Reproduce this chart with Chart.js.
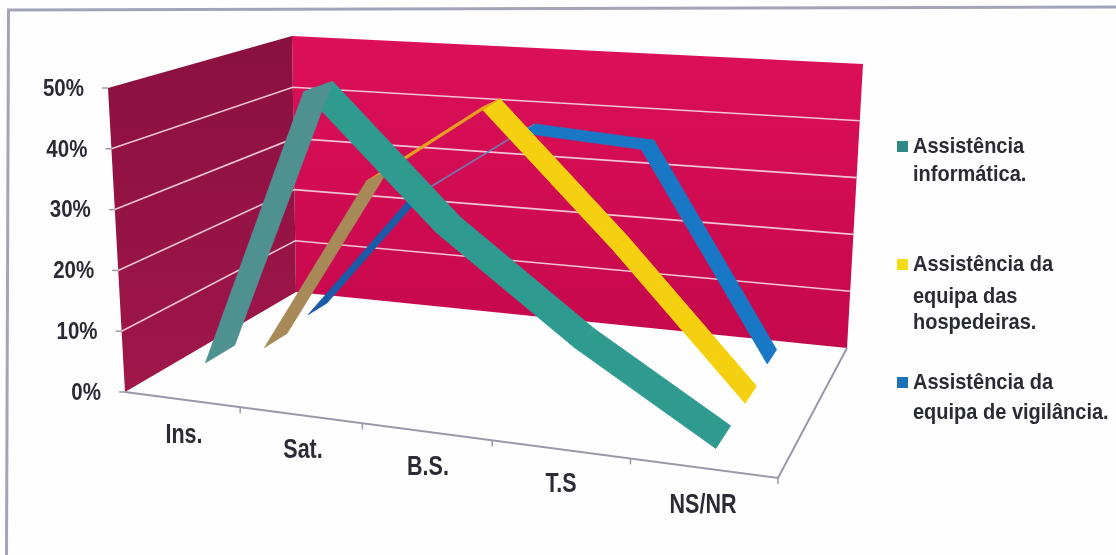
<!DOCTYPE html>
<html>
<head>
<meta charset="utf-8">
<style>
  html, body { margin: 0; padding: 0; background: #fefefe; }
  #chart { display: block; }
</style>
<script src="https://cdn.jsdelivr.net/npm/chart.js@4/dist/chart.umd.js"></script>
</head>
<body>
<canvas id="chart" width="1116" height="555"></canvas>
<script>
const categories = ["Ins.", "Sat.", "B.S.", "T.S", "NS/NR"];
const tickLabels = [0, 10, 20, 30, 40, 50];

const informatica = [3.5, 50, 29, 13, 0];
const hospedeiras = [0, 31, 45, 23, 0];
const vigilancia = [1, 24, 37.5, 36, 1];

// floor and top of the 3d box: front left, front right, back right, back left
const floorQuad = [[125, 392], [778, 478], [847, 348], [296, 292]];
const topQuad = [[108, 88], [795, 140], [863, 64], [292, 36]];
const maxValue = 50;

const homography = (q) => {
  const [[x0, y0], [x1, y1], [x2, y2], [x3, y3]] = q;
  const sx = x0 - x1 + x2 - x3, sy = y0 - y1 + y2 - y3;
  const dx1 = x1 - x2, dx2 = x3 - x2, dy1 = y1 - y2, dy2 = y3 - y2;
  const den = dx1 * dy2 - dx2 * dy1;
  const g = (sx * dy2 - dx2 * sy) / den, h = (dx1 * sy - sx * dy1) / den;
  const a = x1 - x0 + g * x1, b = x3 - x0 + h * x3, d = y1 - y0 + g * y1, e = y3 - y0 + h * y3;
  return (u, v) => {
    const w = g * u + h * v + 1;
    return [(a * u + b * v + x0) / w, (d * u + e * v + y0) / w];
  };
};
const floorAt = homography(floorQuad);
const topAt = homography(topQuad);

// u along the categories, d into the depth, v the value in %
const project = (u, d, v) => {
  const f = floorAt(u, d), t = topAt(u, d), k = v / maxValue;
  return { x: f[0] + (t[0] - f[0]) * k, y: f[1] + (t[1] - f[1]) * k };
};
const catU = (i) => (i + 0.5) / categories.length;

const canvas = document.getElementById("chart");
const ctx = canvas.getContext("2d");
const vGrad = (y0, y1, c0, c1) => {
  const g = ctx.createLinearGradient(0, y0, 0, y1);
  g.addColorStop(0, c0);
  g.addColorStop(1, c1);
  return g;
};

const poly = (pts, color, width, order, isFill) => ({
  data: pts,
  borderColor: color,
  backgroundColor: color,
  borderWidth: width,
  fill: isFill ? "shape" : false,
  pointRadius: 0,
  tension: 0,
  order,
});

const series = [
  { values: vigilancia, depth: [0.74, 0.87], colors: ["#1a5aa6", "#6f80b8", "#1878c6", "#1878c6"], order: 30 },
  { values: hospedeiras, depth: [0.46, 0.6], colors: ["#a88a58", "#eaa020", "#f4d010", "#f4d010"], order: 20 },
  { values: informatica, depth: [0.13, 0.29], colors: ["#4f9090", "#2f9a90", "#2f9a90", "#2f9a90"], order: 10 },
];

const datasets = [];

// walls
const wall = (a, b, c, d, color) => poly([a, b, c, d, a], color, 0, 100, true);
datasets.push(wall(project(0, 0, 0), project(0, 1, 0), project(0, 1, 50), project(0, 0, 50),
  vGrad(40, 390, "#8a1040", "#a0164a")));
datasets.push(wall(project(0, 1, 0), project(1, 1, 0), project(1, 1, 50), project(0, 1, 50),
  vGrad(40, 340, "#dc1058", "#c6084c")));

// grid lines
tickLabels.slice(1, -1).forEach((t) => {
  datasets.push(poly([project(0, 0, t), project(0, 1, t), project(1, 1, t)], "#f0c4d4", 1.6, 90, false));
});

// axis lines
datasets.push(poly([project(0, 0, 0), project(1, 0, 0), project(1, 1, 0)], "#9c96a8", 2, 80, false));
for (let i = 1; i <= categories.length; i++) {
  const p = project(i / categories.length, 0, 0);
  datasets.push(poly([p, { x: p.x, y: p.y + 6 }], "#9c96a8", 1.5, 80, false));
}
tickLabels.forEach((t) => {
  const p = project(0, 0, t);
  datasets.push(poly([p, { x: p.x - 6, y: p.y }], "#9c96a8", 1.5, 80, false));
});

// ribbons, one polygon a segment
series.forEach((s) => {
  for (let i = 0; i < s.values.length - 1; i++) {
    const u0 = catU(i), u1 = catU(i + 1);
    const a = project(u0, s.depth[0], s.values[i]);
    const b = project(u1, s.depth[0], s.values[i + 1]);
    const c = project(u1, s.depth[1], s.values[i + 1]);
    const d = project(u0, s.depth[1], s.values[i]);
    datasets.push(poly([a, b, c, d, a], s.colors[i], 0.8, s.order, true));
  }
});

const legendItems = [
  { color: "#2f8a84", lines: ["Assistência", "informática."], y: [147, 175] },
  { color: "#f2dc10", lines: ["Assistência da", "equipa das", "hospedeiras."], y: [265, 297, 323] },
  { color: "#1c72b8", lines: ["Assistência da", "equipa de vigilância."], y: [383, 413] },
];
const catLabelPos = [[184, 436], [303, 451], [428, 468], [561, 485], [703, 506]];

// the scan stretches the type, so it is drawn taller than wide
const tallText = (c, text, x, y, sy) => {
  c.save();
  c.translate(x, y);
  c.scale(1, sy);
  c.fillText(text, 0, 0);
  c.restore();
};

const textPlugin = {
  id: "textPlugin",
  beforeDraw(chart) {
    const c = chart.ctx;
    c.save();
    c.strokeStyle = "#a4a4b8";
    c.lineWidth = 3;
    c.beginPath();
    c.moveTo(6.5, 555);
    c.lineTo(8.5, 10);
    c.lineTo(1116, 7);
    c.stroke();
    c.restore();
  },
  afterDraw(chart) {
    const c = chart.ctx;
    c.save();
    c.fillStyle = "#2b2b35";
    c.font = "bold 20.5px 'Liberation Sans'";
    c.textBaseline = "middle";
    c.textAlign = "right";
    tickLabels.forEach((t) => {
      const p = project(0, 0, t);
      tallText(c, t + "%", p.x - 24, p.y + 1, 1.2);
    });
    c.font = "bold 21.5px 'Liberation Sans'";
    c.textAlign = "center";
    categories.forEach((name, i) => {
      tallText(c, name, catLabelPos[i][0], catLabelPos[i][1], 1.25);
    });
    c.textAlign = "left";
    c.font = "bold 20px 'Liberation Sans'";
    legendItems.forEach((item) => {
      c.fillStyle = item.color;
      c.fillRect(897, item.y[0] - 6, 11, 11);
      c.fillStyle = "#2b2b35";
      item.lines.forEach((l, i) => tallText(c, l, 913, item.y[i], 1.1));
    });
    c.restore();
  },
};

new Chart(ctx, {
  type: "line",
  data: { datasets },
  options: {
    responsive: false,
    animation: false,
    layout: { padding: 0 },
    scales: {
      x: { type: "linear", min: 0, max: 1116, display: false },
      y: { type: "linear", min: 0, max: 555, reverse: true, display: false },
    },
    plugins: { legend: { display: false }, tooltip: { enabled: false } },
  },
  plugins: [textPlugin],
});
</script>
</body>
</html>
